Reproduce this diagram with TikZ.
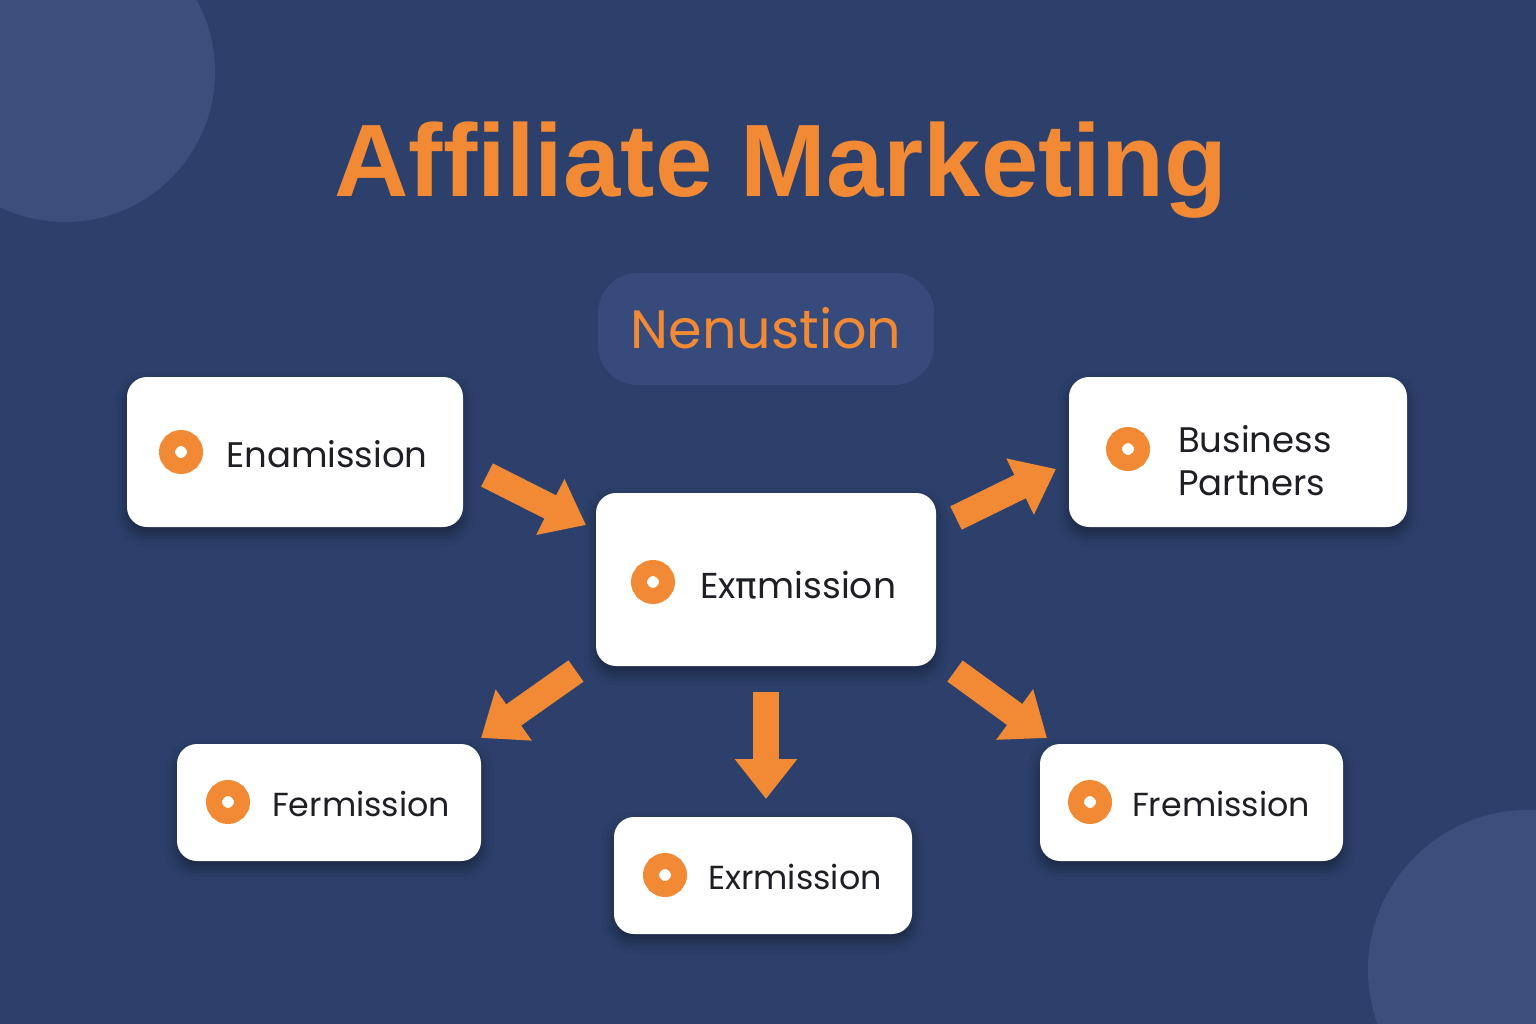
\documentclass[tikz,border=0pt]{standalone}
\usepackage{fontspec}
\setmainfont{Poppins}
\newfontfamily\titlefont{Liberation Sans}
\newfontfamily\gkfont{DejaVu Sans}
\usetikzlibrary{arrows.meta,shadows.blur}
\definecolor{bg}{RGB}{44,64,107}
\definecolor{bglight}{RGB}{58,79,124}
\definecolor{pillc}{RGB}{54,75,123}
\definecolor{orng}{RGB}{242,138,53}
\definecolor{ink}{RGB}{30,31,36}
\tikzset{
  card/.style={draw=none, fill=white, rounded corners=20pt, inner sep=0pt,
    blur shadow={shadow xshift=0pt, shadow yshift=-7pt, shadow blur radius=12pt, shadow opacity=40}},
  dotnode/.style={circle, draw=orng, line width=16pt, fill=white, minimum size=28pt, inner sep=0pt},
  lbl/.style={anchor=base west, text=ink, font=\fontsize{36}{42}\selectfont, inner sep=0pt, align=left},
  bigarrow/.style={draw=orng, line width=26pt, -{Triangle[width=60pt,length=40pt]}}
}
\begin{document}
\begin{tikzpicture}[x=1pt,y=-1pt]
\fill[bg] (0,0) rectangle (1536,1024);
\useasboundingbox (0,0) rectangle (1536,1024);
\fill[bglight] (65,72) circle (150);
\fill[bglight] (1528,970) circle (160);
% title
\node[text=orng, font=\titlefont\bfseries\fontsize{103}{110}\selectfont, anchor=base] (title) at (781,197) {Affiliate Marketing};
% pill
\node[fill=pillc, rounded corners=40pt, minimum width=336pt, minimum height=112pt, inner sep=0pt] (pill) at (766,329) {};
\node[text=orng, font=\fontsize{54}{60}\selectfont, inner sep=0pt] (pilltext) at (766,328) {Nenustion};
% cards
\node[card, minimum width=336pt, minimum height=150pt] (e1) at (295,452) {};
\node[card, minimum width=340pt, minimum height=173pt] (ctr) at (766,579.5) {};
\node[card, minimum width=338pt, minimum height=150pt] (bp) at (1238,452) {};
\node[card, minimum width=304pt, minimum height=117pt] (fe) at (329,802.5) {};
\node[card, minimum width=298pt, minimum height=117pt] (ex) at (763,875.5) {};
\node[card, minimum width=303pt, minimum height=117pt] (fr) at (1191.5,802.5) {};
% dots
\node[dotnode] (d1) at (181,452) {};
\node[dotnode] (d2) at (653,582) {};
\node[dotnode] (d3) at (1128,449) {};
\node[dotnode] (d4) at (228,802) {};
\node[dotnode] (d5) at (665,875) {};
\node[dotnode] (d6) at (1090,802) {};
% labels
\node[lbl, font=\fontsize{35.5}{42}\selectfont] (t1) at (226,467) {Enamission};
\node[lbl] (t2) at (700,598) {Ex{\gkfont π}mission};
\node[lbl, font=\fontsize{35.5}{42}\selectfont] (t3a) at (1178,452) {Business};
\node[lbl, font=\fontsize{35.5}{42}\selectfont] (t3b) at (1178,495) {Partners};
\node[lbl, font=\fontsize{33.3}{40}\selectfont] (t4) at (272,816) {Fermission};
\node[lbl, font=\fontsize{33.3}{40}\selectfont] (t5) at (708,889) {Exrmission};
\node[lbl, font=\fontsize{33.3}{40}\selectfont] (t6) at (1132,816) {Fremission};
% arrow endpoints
\coordinate (a1s) at (487,475); \coordinate (a1e) at (586,525);
\coordinate (a2s) at (956,518); \coordinate (a2e) at (1056,469);
\coordinate (a3s) at (576,671); \coordinate (a3e) at (481,738);
\coordinate (a4s) at (766,692); \coordinate (a4e) at (766,799);
\coordinate (a5s) at (955,671); \coordinate (a5e) at (1047,738);
\draw[bigarrow] (a1s) -- (a1e);
\draw[bigarrow] (a2s) -- (a2e);
\draw[bigarrow] (a3s) -- (a3e);
\draw[bigarrow] (a4s) -- (a4e);
\draw[bigarrow] (a5s) -- (a5e);
\end{tikzpicture}
\end{document}
